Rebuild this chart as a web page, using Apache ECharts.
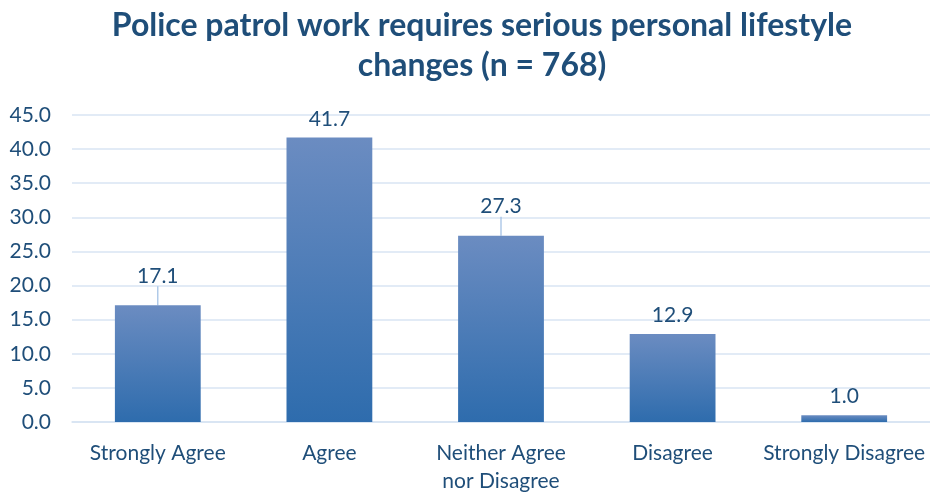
<!DOCTYPE html>
<html lang="en">
<head>
    <meta charset="UTF-8">
    <title>Police patrol work</title>
    <script src="https://cdn.jsdelivr.net/npm/echarts@6/dist/echarts.min.js"></script>
    <style>
        body{ margin:0; background:#fff; }
        #chart{ width:930px; height:495px; }
    </style>
</head>
<body>
<div id="chart"></div>
<script>
    var categories = ['Strongly Agree', 'Agree', 'Neither Agree\nnor Disagree', 'Disagree', 'Strongly Disagree'];
    var percents = [17.1, 41.7, 27.3, 12.9, 1.0];
    var yTicks = {min: 0, max: 45, interval: 5};
    // labels that sit further up, joined to their bar by a short leader line
    var raisedLabels = [0, 2];

    var txt = '#1f4e79';
    var font = 'Lato, "Open Sans", sans-serif';

    var chart = echarts.init(document.getElementById('chart'));

    var barData = percents.map(function(v, i){
        var item = {value: v};
        if (raisedLabels.indexOf(i) < 0) {
            item.labelLine = {show: false};
        }
        return item;
    });

    chart.setOption({
        animation: false,
        title: {
            text: 'Police patrol work requires serious personal lifestyle\nchanges (n = 768)',
            left: 477,
            top: 1,
            textAlign: 'center',
            textStyle: {color: txt, fontFamily: font, fontWeight: 'bold', fontSize: 32, lineHeight: 40}
        },
        grid: {left: 72, right: -1, top: 115, bottom: 73, containLabel: false},
        xAxis: {
            type: 'category',
            data: categories,
            axisLine: {lineStyle: {color: '#d6e3f2', width: 1.5}},
            axisTick: {show: false},
            axisLabel: {color: txt, fontFamily: font, fontSize: 21, margin: 17, lineHeight: 28, interval: 0}
        },
        yAxis: {
            type: 'value',
            min: yTicks.min, max: yTicks.max, interval: yTicks.interval,
            axisLine: {show: false},
            axisTick: {show: false},
            splitLine: {lineStyle: {color: '#d9e5f3', width: 1.5}},
            axisLabel: {
                color: txt, fontFamily: font, fontSize: 21, margin: 21,
                formatter: function(v){ return v.toFixed(1); }
            }
        },
        series: [{
            type: 'bar',
            data: barData,
            barWidth: '50%',
            itemStyle: {
                color: new echarts.graphic.LinearGradient(0, 0, 0, 1, [
                    {offset: 0, color: '#6b8cc1'},
                    {offset: 1, color: '#2e6cad'}
                ])
            },
            label: {
                show: true, position: 'top', distance: 8,
                color: txt, fontFamily: font, fontSize: 21,
                formatter: function(p){ return p.value.toFixed(1); }
            },
            labelLayout: function(p){
                if (raisedLabels.indexOf(p.dataIndex) < 0) return {};
                return {dy: -11};
            },
            labelLine: {show: true, lineStyle: {color: '#9dbde3', width: 1.2}}
        }]
    });
</script>
</body>
</html>
